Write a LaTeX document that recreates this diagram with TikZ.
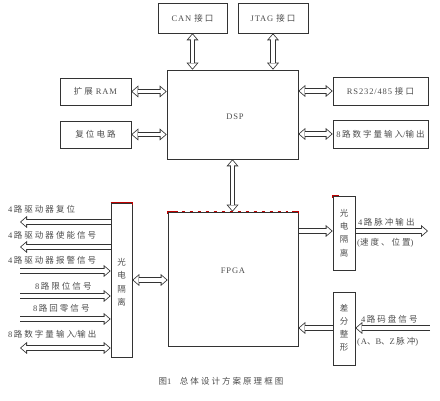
\documentclass[tikz,border=0pt]{standalone}
\usepackage{fontspec}
\setmainfont{Liberation Serif}[LetterSpace=10]
\newfontfamily\cjk{Noto Sans CJK SC}[LetterSpace=24]
\newcommand\zh[1]{{\cjk #1}}
\usetikzlibrary{arrows.meta}
\pgfdeclarelayer{bg}
\pgfsetlayers{bg,main}
\tikzset{
  box/.style={draw=black!80, line width=0.6pt, inner sep=0pt},
  lbl/.style={inner sep=0pt, text=black!70, font=\fontsize{8.5}{10}\selectfont},
  hout/.style={draw=black!80, line width=5.2pt,
    >={Triangle[length=7pt,width=12pt,line width=0pt]}},
  hin/.style={draw=white, line width=3.6pt,
    >={Triangle[length=4.97pt,width=8.5pt,line width=0pt]}, shorten >=1.23pt},
  hintwo/.style={hin, shorten <=1.23pt},
  redmark/.style={draw=red!75!black, line width=0.8pt}
}
\newcommand\sarrow[2]{\draw[hout,->] #1 -- #2; \draw[hin,->] #1 -- #2;}
\newcommand\darrow[2]{\draw[hout,<->] #1 -- #2; \draw[hintwo,<->] #1 -- #2;}
\begin{document}
\begin{tikzpicture}[x=1pt,y=-1pt]
\useasboundingbox (0,0) rectangle (440,401);
% boxes
\node[box, minimum width=69pt, minimum height=30pt] (can) at (192.5,18) {};
\node[box, minimum width=70pt, minimum height=30pt] (jtag) at (273,18) {};
\node[box, minimum width=131pt, minimum height=89pt] (dsp) at (232.5,114.5) {};
\node[box, minimum width=71pt, minimum height=27pt] (ram) at (95.5,91.5) {};
\node[box, minimum width=71pt, minimum height=27pt] (reset) at (95.5,134.5) {};
\node[box, minimum width=95pt, minimum height=28pt] (rs) at (380.5,91) {};
\node[box, minimum width=95pt, minimum height=28pt] (dio) at (380.5,134) {};
\node[box, minimum width=130pt, minimum height=134pt] (fpga) at (233,279) {};
\node[box, minimum width=21pt, minimum height=154pt] (iso1) at (121.5,280) {};
\node[box, minimum width=22pt, minimum height=74pt] (iso2) at (344,233) {};
\node[box, minimum width=22pt, minimum height=73pt] (diff) at (344,328.5) {};
% free ends
\coordinate (L1) at (20,222);
\coordinate (L2) at (20,247);
\coordinate (L3) at (20,271);
\coordinate (L4) at (20,296);
\coordinate (L5) at (20,319);
\coordinate (L6) at (20,348);
\coordinate (out1) at (428,231);
\coordinate (in1) at (430,328);
% connectors
\begin{pgfonlayer}{bg}
\darrow{(can.south)}{(can.south |- dsp.north)}
\darrow{(jtag.south)}{(jtag.south |- dsp.north)}
\darrow{(ram.east)}{(ram.east -| dsp.west)}
\darrow{(reset.east)}{(reset.east -| dsp.west)}
\darrow{(rs.west)}{(rs.west -| dsp.east)}
\darrow{(dio.west)}{(dio.west -| dsp.east)}
\darrow{(dsp.south)}{(dsp.south |- fpga.north)}
\darrow{(iso1.east)}{(iso1.east -| fpga.west)}
\sarrow{(iso1.west |- L1)}{(L1)}
\sarrow{(iso1.west |- L2)}{(L2)}
\sarrow{(L3)}{(iso1.west |- L3)}
\sarrow{(L4)}{(iso1.west |- L4)}
\sarrow{(L5)}{(iso1.west |- L5)}
\darrow{(L6)}{(iso1.west |- L6)}
\sarrow{(fpga.east |- out1)}{(iso2.west |- out1)}
\sarrow{(iso2.east |- out1)}{(out1)}
\sarrow{(in1)}{(diff.east |- in1)}
\sarrow{(diff.west |- in1)}{(fpga.east |- in1)}
\end{pgfonlayer}
% red scan marks
\draw[redmark] (iso1.north west) -- (iso1.north east) -- ++(0,2.5);
\draw[redmark] (fpga.north west) ++(0,2) -- (fpga.north west) -- ++(10,0);
\draw[redmark] (fpga.north east) ++(-6,0) -- (fpga.north east) -- ++(0,2);
\draw[redmark, line width=0.5pt, dash pattern=on 3pt off 5pt] ([xshift=14pt]fpga.north west) -- ([xshift=-10pt]fpga.north east);
\draw[redmark] (iso2.north west) ++(0,2) -- (iso2.north west) -- ++(6,0);
% box texts
\node[lbl] (tcan) at (can.center) {CAN \zh{接口}};
\node[lbl] (tjtag) at (jtag.center) {JTAG \zh{接口}};
\node[lbl] (tdsp) at (235,117) {DSP};
\node[lbl] (tram) at (ram.center) {\zh{扩展} RAM};
\node[lbl] (treset) at (reset.center) {\zh{复位电路}};
\node[lbl] (trs) at (rs.center) {RS232/485 \zh{接口}};
\node[lbl] (tdio) at (dio.center) {8\,\zh{路数字量输入}/\zh{输出}};
\node[lbl] (tfpga) at (233,271) {FPGA};
\node[lbl, align=center, font=\fontsize{8.5}{13.5}\selectfont] (tiso1) at (121.5,282.5) {\zh{光}\\\zh{电}\\\zh{隔}\\\zh{离}};
\node[lbl, align=center, font=\fontsize{8.5}{13.3}\selectfont] (tiso2) at (344,233) {\zh{光}\\\zh{电}\\\zh{隔}\\\zh{离}};
\node[lbl, align=center, font=\fontsize{8.5}{13}\selectfont] (tdiff) at (344,327.5) {\zh{差}\\\zh{分}\\\zh{整}\\\zh{形}};
% signal labels
\node[lbl, anchor=west] (s1) at (8,209) {4\,\zh{路驱动器复位}};
\node[lbl, anchor=west] (s2) at (8,235) {4\,\zh{路驱动器使能信号}};
\node[lbl, anchor=west] (s3) at (8,260) {4\,\zh{路驱动器报警信号}};
\node[lbl, anchor=west] (s4) at (35,286) {8\,\zh{路限位信号}};
\node[lbl, anchor=west] (s5) at (33,308) {8\,\zh{路回零信号}};
\node[lbl, anchor=west] (s6) at (8,334) {8\,\zh{路数字量输入}/\zh{输出}};
\node[lbl, anchor=west] (r1) at (358,222) {4\,\zh{路脉冲输出}};
\node[lbl, anchor=west] (r2) at (357,243) {(\zh{速度、位置})};
\node[lbl, anchor=west] (r3) at (361,319) {4\,\zh{路码盘信号}};
\node[lbl, anchor=west] (r4) at (357,342) {(A\zh{、}B\zh{、}Z\,\zh{脉冲})};
% caption
\node[lbl] (cap) at (221,381) {\zh{图}1\quad\zh{总体设计方案原理框图}};
\end{tikzpicture}
\end{document}
